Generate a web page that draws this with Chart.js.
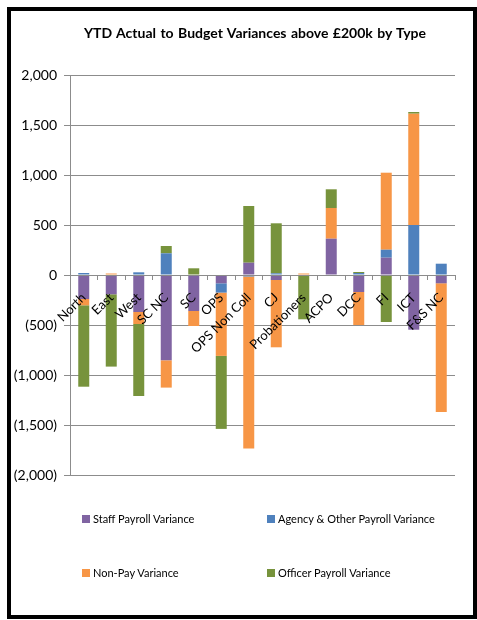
<!DOCTYPE html>
<html>
<head>
<meta charset="utf-8">
<script src="https://cdn.jsdelivr.net/npm/chart.js@4/dist/chart.umd.min.js"></script>
<style>
    body { margin: 0; background: #fff; font-family: Lato, sans-serif; }
    #wrap { position: relative; width: 477px; height: 620px; overflow: hidden; }
    #frame { position: absolute; left: 7px; top: 7px; width: 470px; height: 612px; border: 4px solid #000; box-sizing: border-box; }
    #title { position: absolute; left: 0; top: 24px; width: 510px; text-align: center; font-weight: bold; font-size: 14px; word-spacing: 1px; color: #000; }
    canvas { position: absolute; left: 0; top: 0; }
    .legend-item { position: absolute; font-size: 11px; color: #000; white-space: nowrap; line-height: 12px; }
    .legend-item span { display: inline-block; width: 8px; height: 8px; margin-right: 3px; }
</style>
</head>
<body>
<div id="wrap">
    <canvas id="varianceChart" width="477" height="620"></canvas>
    <div id="title">YTD Actual to Budget Variances above £200k by Type</div>
    <div id="legend"></div>
    <div id="frame"></div>
</div>
<script>
// Categories and series (£k)
const categories = ['North', 'East', 'West', 'SC NC', 'SC', 'OPS', 'OPS Non Coll', 'CJ', 'Probationers', 'ACPO', 'DCC', 'FI', 'ICT', 'F&S NC'];
const staffPayroll = [-240, -193, -370, -853, -360, -83, 123, -50, 0, 363, -170, 173, -547, -83];
const agencyPayroll = [20, 0, 27, 217, 0, -93, -15, 17, 0, 0, 20, 80, 500, 113];
const nonPay = [-63, 15, -120, -273, -150, -633, -1720, -673, 15, 307, -330, 770, 1113, -1287];
const officerPayroll = [-814, -723, -720, 73, 67, -730, 567, 500, -443, 187, 10, -470, 17, 0];
const yTicks = [2000, 1500, 1000, 500, 0, -500, -1000, -1500, -2000];

const seriesLabels = ['Staff Payroll Variance', 'Agency & Other Payroll Variance', 'Non-Pay Variance', 'Officer Payroll Variance'];
const seriesColors = ['#8064A2', '#4F81BD', '#F79646', '#77933C'];
const seriesData = [staffPayroll, agencyPayroll, nonPay, officerPayroll];

function formatTick(v) {
    const s = Math.abs(v).toLocaleString('en-GB');
    return v < 0 ? '(' + s + ')' : s;
}

const ctx = document.getElementById('varianceChart').getContext('2d');
const chart = new Chart(ctx, {
    type: 'bar',
    data: {
        labels: categories,
        datasets: seriesData.map((d, i) => ({
            label: seriesLabels[i],
            data: d,
            backgroundColor: seriesColors[i],
            borderWidth: 0,
            categoryPercentage: 1,
            barPercentage: 0.4
        }))
    },
    options: {
        responsive: false,
        animation: false,
        devicePixelRatio: 1,
        layout: {
            padding: { top: 75, bottom: 145, left: 0, right: 22 }
        },
        plugins: {
            legend: { display: false },
            title: { display: false },
            tooltip: { enabled: false }
        },
        scales: {
            x: {
                stacked: true,
                position: { y: 0 },
                grid: {
                    display: true,
                    drawOnChartArea: false,
                    drawTicks: true,
                    tickLength: 4,
                    color: '#8c8c8c',
                    z: 1
                },
                border: { color: '#8c8c8c', z: 1 },
                ticks: {
                    z: 1, // category labels sit on top of the bars
                    minRotation: 45,
                    maxRotation: 45,
                    autoSkip: false,
                    padding: 11,
                    color: '#000',
                    font: { family: 'Lato', size: 13 }
                }
            },
            y: {
                stacked: true,
                min: -2000,
                max: 2000,
                afterFit: scale => { scale.width = 70; },
                afterBuildTicks: scale => {
                    scale.ticks = yTicks.map(v => ({ value: v }));
                },
                grid: {
                    color: '#8c8c8c',
                    tickLength: 6
                },
                border: { color: '#8c8c8c' },
                ticks: {
                    padding: 7,
                    color: '#000',
                    font: { family: 'Lato', size: 14 },
                    callback: formatTick
                }
            }
        }
    }
});

// Legend in a 2x2 grid below the plot
const legendPos = [[82, 513], [267, 513], [82, 567], [267, 567]];
const legendBox = document.getElementById('legend');
chart.data.datasets.forEach((ds, i) => {
    const item = document.createElement('div');
    item.className = 'legend-item';
    item.style.left = legendPos[i][0] + 'px';
    item.style.top = legendPos[i][1] + 'px';
    item.innerHTML = '<span style="background:' + ds.backgroundColor + '"></span>' + ds.label.replace('&', '&amp;');
    legendBox.appendChild(item);
});
</script>
</body>
</html>
